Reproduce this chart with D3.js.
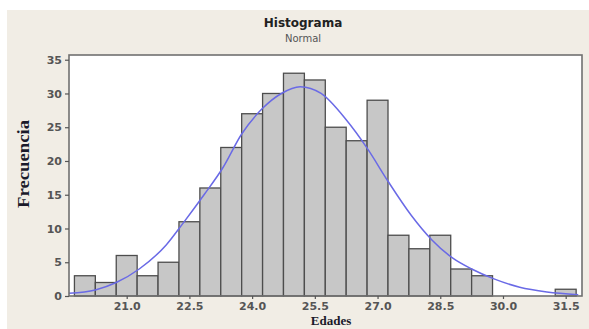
<!DOCTYPE html>
<html>
<head>
<meta charset="utf-8">
<script src="https://cdn.jsdelivr.net/npm/d3@7"></script>
<style>
  body { margin: 0; background: #fff; }
</style>
</head>
<body>
<div id="chart"></div>
<script>
// bins of 0.5 years, centred on these ages
const binCenters = [20.0, 20.5, 21.0, 21.5, 22.0, 22.5, 23.0, 23.5, 24.0, 24.5, 25.0, 25.5,
                    26.0, 26.5, 27.0, 27.5, 28.0, 28.5, 29.0, 29.5, 30.0, 30.5, 31.0, 31.5]
const counts = [3, 2, 6, 3, 5, 11, 16, 22, 27, 30, 33, 32,
                25, 23, 29, 9, 7, 9, 4, 3, 0, 0, 0, 1]
const binWidth = 0.5

// fitted normal curve
const curveX = [19.62, 20.25, 20.75, 21.3, 21.95, 22.35, 22.85, 23.3, 23.75, 24.25, 24.7, 25.15,
                25.65, 26.25, 26.75, 27.25, 27.8, 28.3, 28.8, 29.25, 29.8, 30.4, 31.05, 31.8]
const curveY = [0.4, 0.9, 2.0, 4.0, 7.6, 10.8, 15.0, 19.0, 24.0, 27.8, 30.0, 31.0,
                30.0, 26.1, 21.9, 17.0, 12.0, 8.3, 5.6, 4.0, 2.5, 1.3, 0.6, 0.2]

const xTicks = [21.0, 22.5, 24.0, 25.5, 27.0, 28.5, 30.0, 31.5]
const yTicks = [0, 5, 10, 15, 20, 25, 30, 35]

const sizing = { width: 589, height: 329 }
const margin = { top: 55, bot: 33, left: 69, right: 7 }

const svg = d3.select("#chart").append("svg")
    .attr("width", sizing.width)
    .attr("height", sizing.height)
    .style("display", "block")

// beige page
svg.append("rect")
    .attr("x", 7).attr("y", 10)
    .attr("width", sizing.width - 7)
    .attr("height", sizing.height - 10)
    .attr("fill", "#f1ede5")

const x = d3.scaleLinear()
    .domain([19.62, 31.89])
    .range([margin.left, sizing.width - margin.right])

const y = d3.scaleLinear()
    .domain([0, 35.7])
    .range([sizing.height - margin.bot, margin.top])

// plot area
svg.append("rect")
    .attr("x", x.range()[0])
    .attr("y", y.range()[1])
    .attr("width", x.range()[1] - x.range()[0])
    .attr("height", y.range()[0] - y.range()[1])
    .attr("fill", "#fff")

// bars
svg.append("g").selectAll("rect")
    .data(binCenters.map((c, i) => ({ c: c, n: counts[i] })).filter(d => d.n > 0))
    .join("rect")
    .attr("x", d => x(d.c - binWidth / 2))
    .attr("width", d => x(d.c + binWidth / 2) - x(d.c - binWidth / 2))
    .attr("y", d => y(d.n))
    .attr("height", d => y(0) - y(d.n))
    .attr("fill", "#c7c7c7")
    .attr("stroke", "#4d4d4d")
    .attr("stroke-width", 1.3)

// normal curve
svg.append("path")
    .datum(curveX.map((v, i) => [v, curveY[i]]))
    .attr("fill", "none")
    .attr("stroke", "#6a6ae6")
    .attr("stroke-width", 1.5)
    .attr("d", d3.line()
        .x(d => x(d[0]))
        .y(d => y(d[1]))
        .curve(d3.curveMonotoneX))

// frame
svg.append("rect")
    .attr("x", x.range()[0])
    .attr("y", y.range()[1])
    .attr("width", x.range()[1] - x.range()[0])
    .attr("height", y.range()[0] - y.range()[1])
    .attr("fill", "none")
    .attr("stroke", "#707070")
    .attr("stroke-width", 1.6)

// axes
const ejeX = d3.axisBottom(x).tickValues(xTicks).tickFormat(d3.format(".1f")).tickSize(3).tickPadding(3)
const ejeY = d3.axisLeft(y).tickValues(yTicks).tickSize(4).tickPadding(3)

const xGroup = svg.append("g")
    .attr("transform", `translate(0,${y(0)})`)
    .call(ejeX)
const yGroup = svg.append("g")
    .attr("transform", `translate(${margin.left},0)`)
    .call(ejeY)

for (const g of [xGroup, yGroup]) {
    g.select(".domain").remove()
    g.selectAll("line").attr("stroke", "#555").attr("stroke-width", 1.2)
    g.selectAll("text")
        .attr("fill", "#555")
        .style("font-family", "'DejaVu Sans', Verdana, sans-serif")
        .style("font-weight", "bold")
        .style("font-size", "11px")
}

// titles
svg.append("text")
    .text("Histograma")
    .attr("x", 303).attr("y", 27)
    .attr("text-anchor", "middle")
    .style("font-family", "'DejaVu Sans', Verdana, sans-serif")
    .style("font-weight", "bold")
    .style("font-size", "12px")
    .attr("fill", "#222")

svg.append("text")
    .text("Normal")
    .attr("x", 303).attr("y", 42)
    .attr("text-anchor", "middle")
    .style("font-family", "'DejaVu Sans', Verdana, sans-serif")
    .style("font-size", "10px")
    .attr("fill", "#555")

svg.append("text")
    .text("Frecuencia")
    .attr("transform", "translate(29,164) rotate(-90)")
    .attr("text-anchor", "middle")
    .attr("textLength", 88)
    .attr("lengthAdjust", "spacingAndGlyphs")
    .style("font-family", "'Liberation Serif', 'Times New Roman', serif")
    .style("font-weight", "bold")
    .style("font-size", "16px")
    .attr("fill", "#1a1a2a")

svg.append("text")
    .text("Edades")
    .attr("x", 331).attr("y", 325)
    .attr("text-anchor", "middle")
    .style("font-family", "'Liberation Serif', 'Times New Roman', serif")
    .style("font-weight", "bold")
    .style("font-size", "13px")
    .attr("fill", "#1a1a2a")
</script>
</body>
</html>
